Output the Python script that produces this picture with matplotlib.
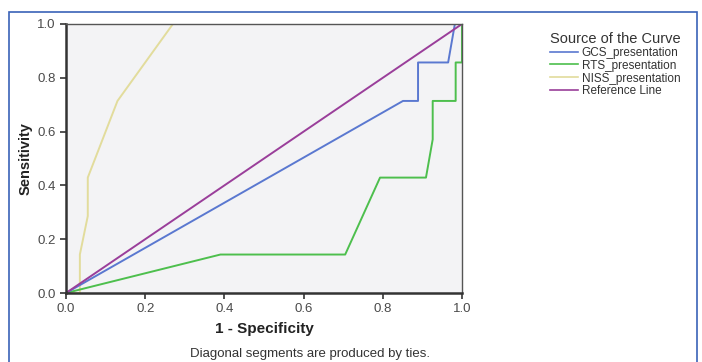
import matplotlib.pyplot as plt
from matplotlib.lines import Line2D
from matplotlib.patches import Rectangle

plt.rcParams["font.family"] = ["Liberation Sans", "DejaVu Sans"]

# ROC curve points (1 - specificity, sensitivity)
gcs_x = [0.0, 0.851, 0.889, 0.889, 0.965, 0.982, 1.0]
gcs_y = [0.0, 0.714, 0.714, 0.857, 0.857, 1.0, 1.0]

rts_x = [0.0, 0.39, 0.705, 0.793, 0.909, 0.926, 0.926, 0.984, 0.984, 1.0, 1.0]
rts_y = [0.0, 0.143, 0.143, 0.429, 0.429, 0.571, 0.714, 0.714, 0.857, 0.857, 1.0]

niss_x = [0.0, 0.035, 0.035, 0.055, 0.055, 0.13, 0.27, 1.0]
niss_y = [0.0, 0.0, 0.143, 0.286, 0.429, 0.714, 1.0, 1.0]

ref_x = [0.0, 1.0]
ref_y = [0.0, 1.0]

series_names = ["GCS_presentation", "RTS_presentation", "NISS_presentation", "Reference Line"]
colors = ["#5a78d0", "#4dbf4d", "#e2dc9c", "#9a3e9a"]

ticks = [0.0, 0.2, 0.4, 0.6, 0.8, 1.0]

fig = plt.figure(figsize=(7.02, 3.62), dpi=100)
fig.patch.set_facecolor("white")

# blue outer frame
fig.patches.append(Rectangle((9 / 702, -0.05), 688 / 702, 1.05 - 12 / 362,
                             transform=fig.transFigure, fill=False,
                             edgecolor="#3a62b8", linewidth=1.2))

ax = fig.add_axes([66 / 702, 1 - 293 / 362, 396 / 702, 269 / 362])
ax.set_facecolor("#f3f3f5")

ax.plot(niss_x, niss_y, color=colors[2], lw=1.4)
ax.plot(rts_x, rts_y, color=colors[1], lw=1.4)
ax.plot(gcs_x, gcs_y, color=colors[0], lw=1.4)
ax.plot(ref_x, ref_y, color=colors[3], lw=1.4)

ax.set_xlim(0, 1)
ax.set_ylim(0, 1)
ax.set_xticks(ticks)
ax.set_yticks(ticks)
ax.set_xticklabels([f"{t:.1f}" for t in ticks])
ax.set_yticklabels([f"{t:.1f}" for t in ticks])
ax.tick_params(direction="out", length=4, width=1.2, colors="#333333",
               labelsize=9.5, labelcolor="#4a4a4a")

for s in ["left", "bottom"]:
    ax.spines[s].set_linewidth(1.8)
    ax.spines[s].set_color("#333333")
for s in ["top", "right"]:
    ax.spines[s].set_linewidth(1.0)
    ax.spines[s].set_color("#555555")

ax.set_xlabel("1 - Specificity", fontsize=11, fontweight="bold", labelpad=5,
              color="#222222")
ax.set_ylabel("Sensitivity", fontsize=10.5, fontweight="bold", labelpad=3,
              color="#222222")

handles = [Line2D([0], [0], color=c, lw=1.2) for c in colors]
leg = fig.legend(handles, series_names, loc="upper left",
                 bbox_to_anchor=(545 / 702, 1 - 27 / 362),
                 title="Source of the Curve", frameon=False,
                 fontsize=8.5, title_fontsize=10.5, handlelength=2.4,
                 handletextpad=0.3, labelspacing=0.08, borderaxespad=0)
leg._legend_box.align = "left"
for t in leg.get_texts():
    t.set_color("#333333")
leg.get_title().set_color("#333333")

fig.text(310 / 702, 1 - 354 / 362, "Diagonal segments are produced by ties.",
         ha="center", va="center", fontsize=9.5, color="#333333")

fig.savefig("out.png", dpi=100)
